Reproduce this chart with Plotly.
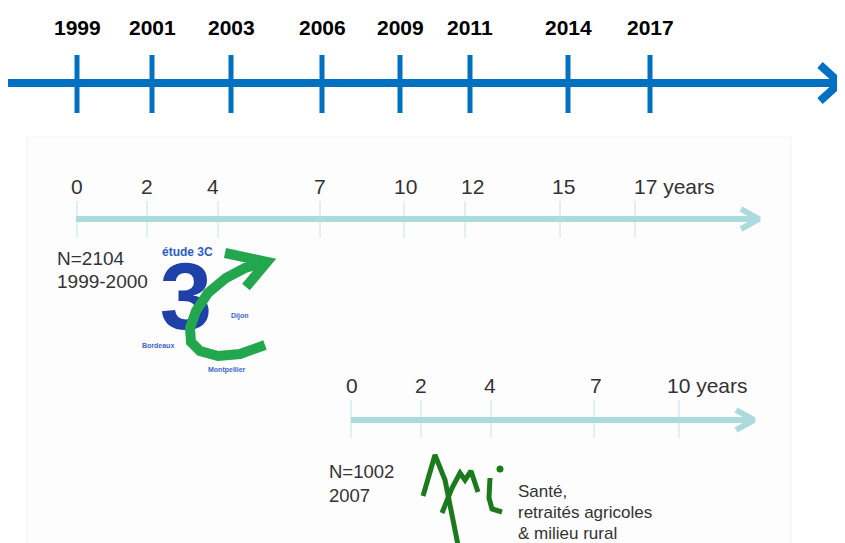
import plotly.graph_objects as go

# ---------------- data ----------------
calendar_years = ["1999", "2001", "2003", "2006", "2009", "2011", "2014", "2017"]
followup_3c = [0, 2, 4, 7, 10, 12, 15, 17]
followup_ami = [0, 2, 4, 7, 10]
cohort_3c_n = 2104
cohort_3c_period = "1999-2000"
cohort_ami_n = 1002
cohort_ami_period = "2007"
ami_caption = ["Santé,", "retraités agricoles", "& milieu rural"]
cities_3c = ["Dijon", "Bordeaux", "Montpellier"]

# ---------------- layout (page-pixel positions) ----------------
W, H = 845, 543
OFF = 8  # default page body margin
top_x = [77, 152, 231, 322, 400, 470, 568, 650]
c3_x = [77, 147, 218, 320, 404, 465, 560, 635]
c3_label_x = [77, 147, 213, 320, 405, 472, 563, 632]
ami_x = [351, 421, 491, 594, 679]
ami_label_x = [352, 421, 490, 596, 665]

BLUE = "#0070c0"
TEAL = "#acdbde"
TEAL_TICK = "#d4edf0"
TXT = "#333333"
FONT = "Liberation Sans, Arial"

fig = go.Figure()

def seg(xs, ys, color, width, fill=None):
    fig.add_trace(go.Scatter(x=xs, y=ys, mode="lines", line=dict(color=color, width=width),
                             fill=fill, fillcolor=color if fill else None,
                             hoverinfo="skip", showlegend=False))

# faint panel behind the follow-up timelines
fig.add_shape(type="rect", x0=27, x1=791, y0=137, y1=H + 5, fillcolor="#fdfdfd",
              line=dict(color="#f3f3f3", width=1), layer="below")

# ----- top calendar axis -----
seg([8, 837], [83, 83], BLUE, 8)
seg([820, 840, 820], [65, 83, 101], BLUE, 8)
for i, lab in enumerate(calendar_years):
    seg([top_x[i], top_x[i]], [55, 113], BLUE, 5)
    fig.add_annotation(x=top_x[i], y=27, text="<b>%s</b>" % lab, showarrow=False,
                       font=dict(family=FONT, size=21, color="#000000"))

# ----- 3C follow-up timeline -----
for i, v in enumerate(followup_3c):
    seg([c3_x[i], c3_x[i]], [201, 238], TEAL_TICK, 1.5)
seg([76, 757], [219, 219], TEAL, 6)
seg([741, 759, 741], [209, 219, 229], TEAL, 6)
for i, v in enumerate(followup_3c):
    last = i == len(followup_3c) - 1
    fig.add_annotation(x=c3_label_x[i], y=186, text=("%d years" % v) if last else str(v),
                       showarrow=False, xanchor="left" if last else "center",
                       font=dict(family=FONT, size=21, color=TXT))

fig.add_annotation(x=55, y=258, text="N=%d" % cohort_3c_n, showarrow=False, xanchor="left",
                   font=dict(family=FONT, size=19, color=TXT))
fig.add_annotation(x=55, y=281, text=cohort_3c_period, showarrow=False, xanchor="left",
                   font=dict(family=FONT, size=19, color=TXT))

# 3C logo
fig.add_trace(go.Scatter(x=[186], y=[305], mode="text", text=["<b>3</b>"],
                         textfont=dict(family=FONT, size=94, color="#1e40a8"),
                         hoverinfo="skip", showlegend=False))
GREEN = "#22a64e"
seg([266, 245, 226, 208, 196, 190, 191, 200, 218, 240, 265],
    [262, 268, 278, 293, 311, 328, 342, 351, 356, 354, 345], GREEN, 10)
seg([225, 267, 246], [253, 262, 287], GREEN, 10)
fig.add_annotation(x=187, y=252, text="<b>étude 3C</b>", showarrow=False,
                   font=dict(family=FONT, size=12, color="#2c5cc5"))
city_pos = [(240, 316), (158, 345), (227, 370)]
for name, (cx, cy) in zip(cities_3c, city_pos):
    fig.add_annotation(x=cx, y=cy, text="<b>%s</b>" % name, showarrow=False,
                       font=dict(family=FONT, size=7, color="#3a66c9"))

# ----- AMI follow-up timeline -----
for i, v in enumerate(followup_ami):
    seg([ami_x[i], ami_x[i]], [400, 438], TEAL_TICK, 1.5)
seg([351, 752], [420, 420], TEAL, 6)
seg([736, 754, 736], [410, 420, 430], TEAL, 6)
for i, v in enumerate(followup_ami):
    last = i == len(followup_ami) - 1
    fig.add_annotation(x=ami_label_x[i], y=385, text=("%d years" % v) if last else str(v),
                       showarrow=False, xanchor="left" if last else "center",
                       font=dict(family=FONT, size=21, color=TXT))

fig.add_annotation(x=327, y=471, text="N=%d" % cohort_ami_n, showarrow=False, xanchor="left",
                   font=dict(family=FONT, size=18.5, color=TXT))
fig.add_annotation(x=327, y=495, text=cohort_ami_period, showarrow=False, xanchor="left",
                   font=dict(family=FONT, size=18.5, color=TXT))

# AMI logo (scribble)
AMI_G = "#1b7a1b"
seg([423, 435, 445, 452, 458], [496, 455, 480, 512, 545], AMI_G, 5)
seg([442, 452, 460, 465, 471, 475, 478], [513, 488, 473, 480, 471, 484, 492], AMI_G, 5)
seg([490, 489, 492, 502], [478, 498, 509, 512], AMI_G, 5)
fig.add_trace(go.Scatter(x=[500], y=[469], mode="markers", marker=dict(color=AMI_G, size=7),
                         hoverinfo="skip", showlegend=False))
for j, line in enumerate(ami_caption):
    fig.add_annotation(x=516, y=491 + j * 21, text=line, showarrow=False, xanchor="left",
                       font=dict(family=FONT, size=17, color=TXT))

fig.update_layout(
    width=W - OFF, height=H - OFF, margin=dict(l=0, r=0, t=0, b=0),
    paper_bgcolor="white", plot_bgcolor="white",
    xaxis=dict(range=[OFF, W], visible=False, fixedrange=True),
    yaxis=dict(range=[H, OFF], visible=False, fixedrange=True),
    showlegend=False,
)
fig.write_html("out.html")
